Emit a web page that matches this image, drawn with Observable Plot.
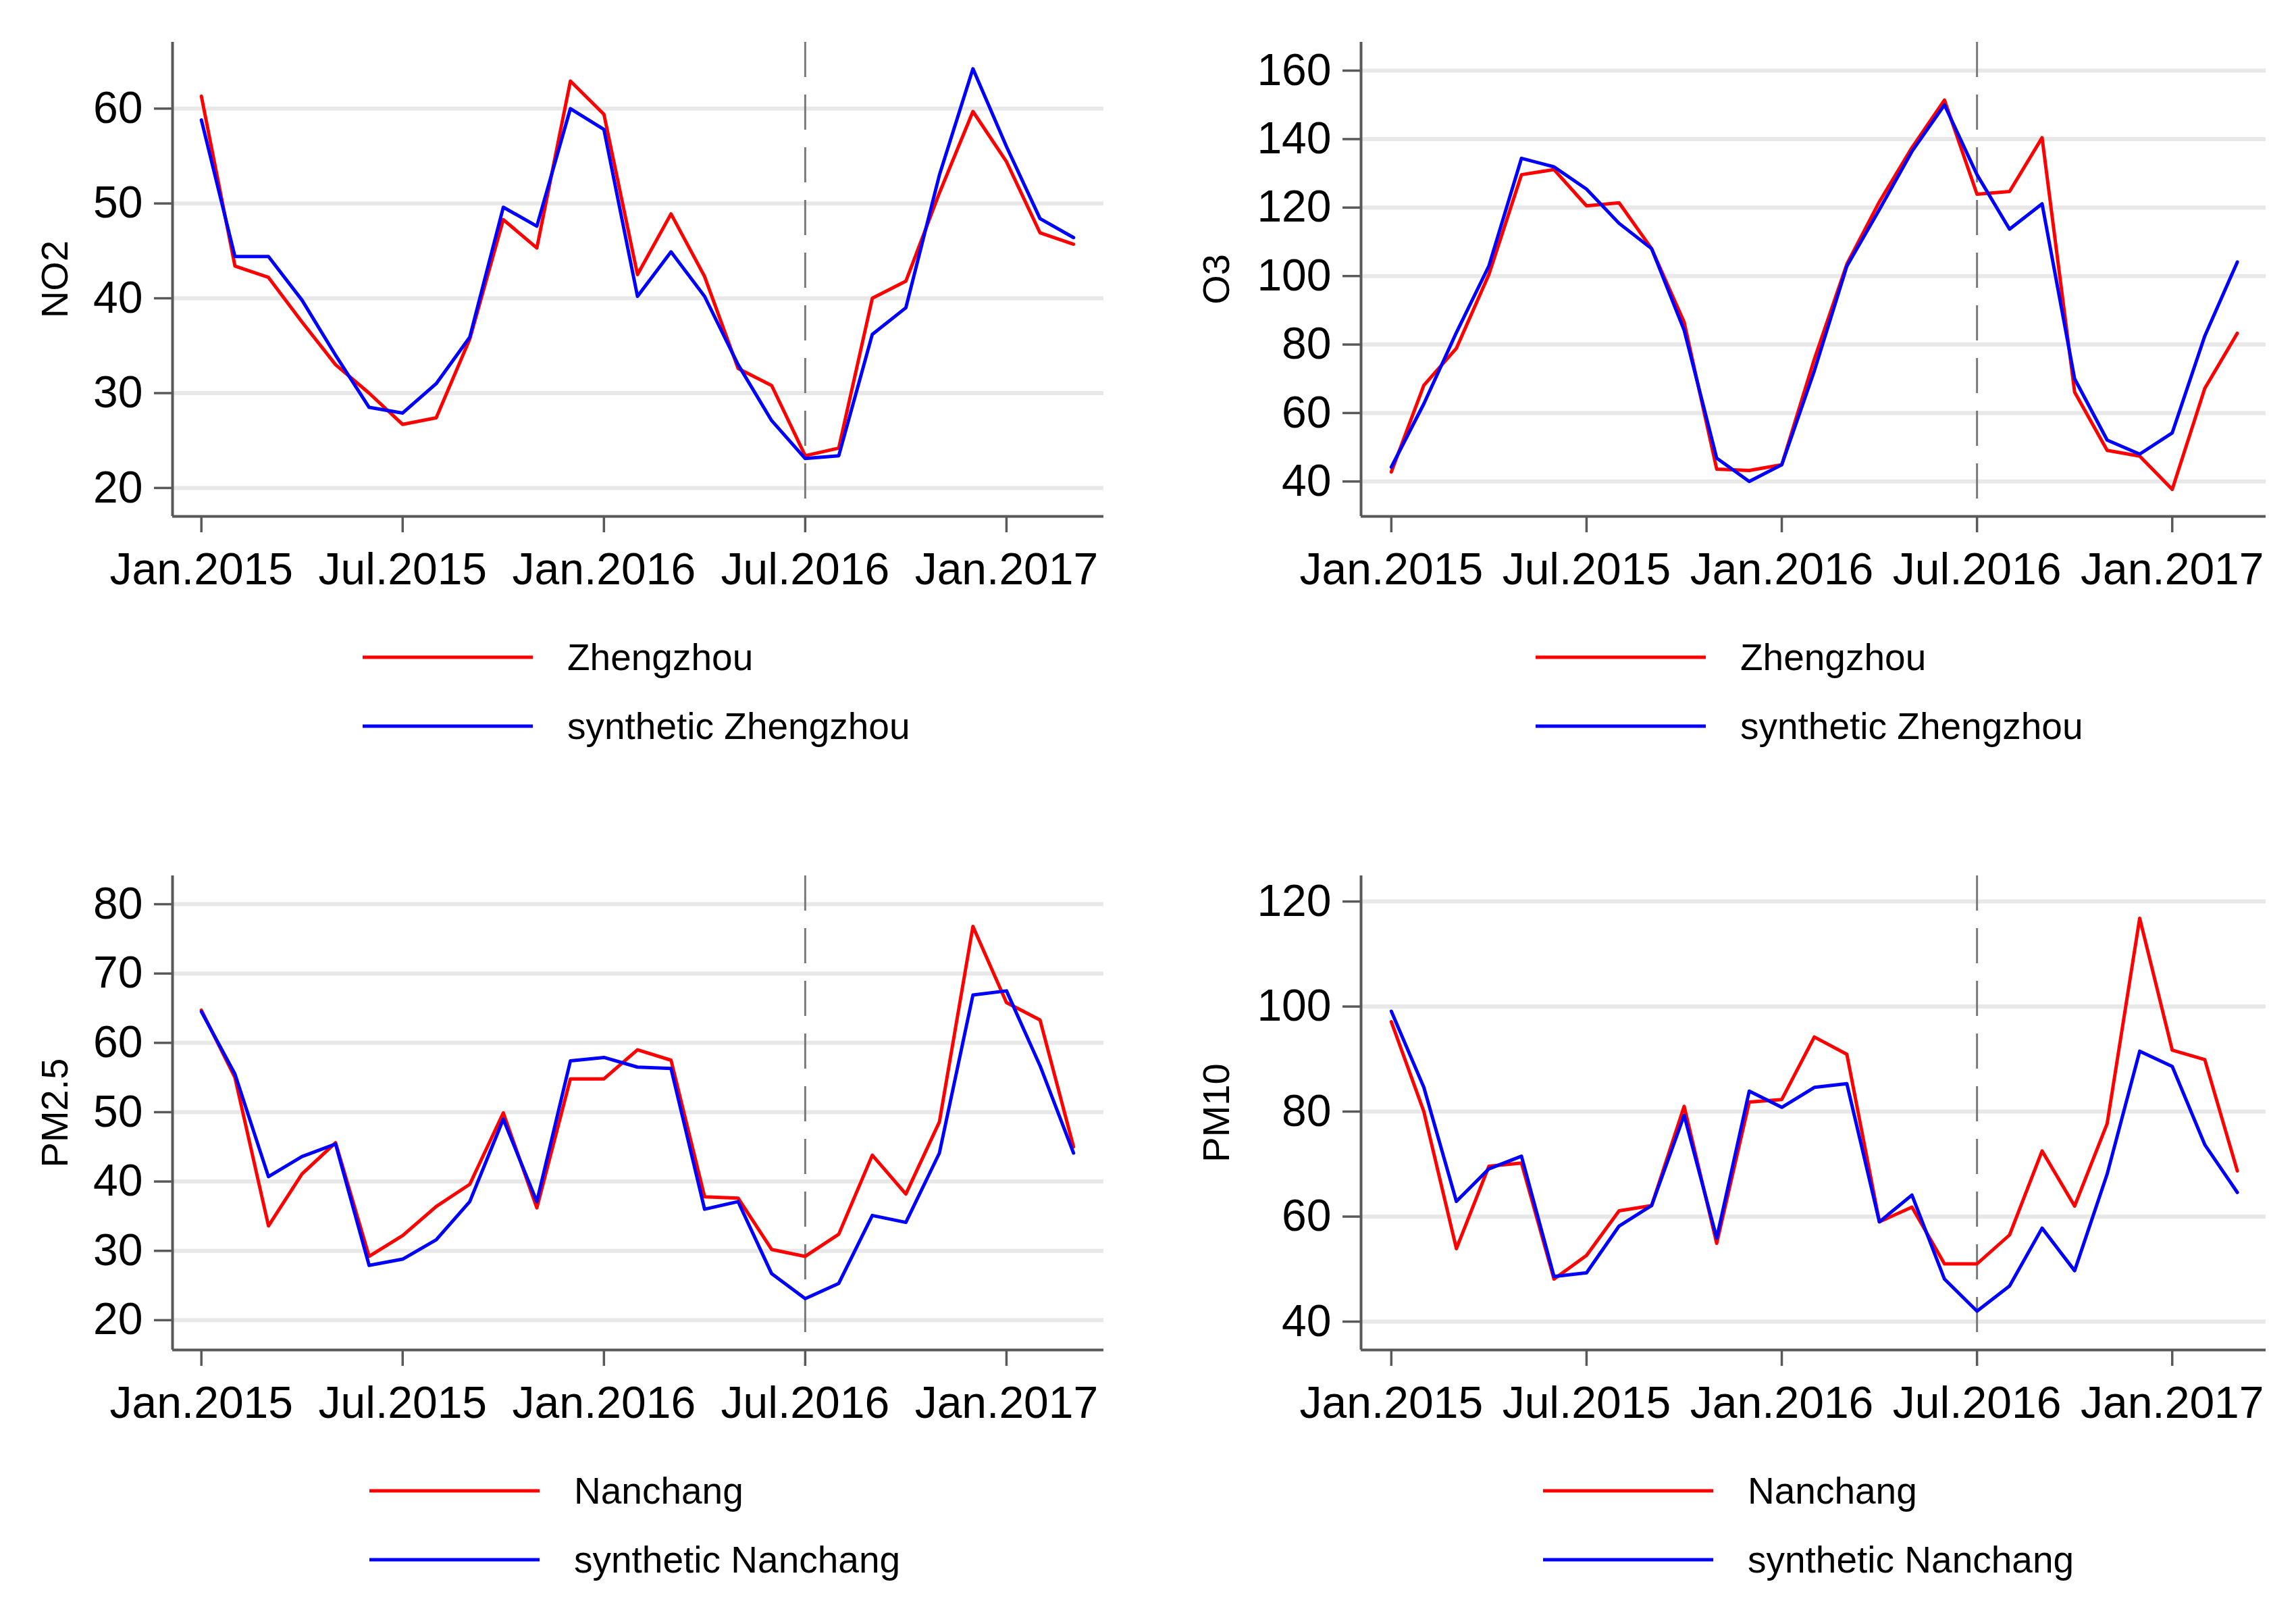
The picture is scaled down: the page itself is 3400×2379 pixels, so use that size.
<!DOCTYPE html>
<html>
<head>
<meta charset="utf-8">
<script src="https://cdn.jsdelivr.net/npm/d3@7"></script>
<script src="https://cdn.jsdelivr.net/npm/@observablehq/plot@0.6"></script>
<style>
  html, body { margin: 0; padding: 0; background: #ffffff; }
  #root { position: relative; width: 3400px; height: 2379px; background: #ffffff; overflow: hidden;
          font-family: "Liberation Sans", Arial, sans-serif; }
  .panel { position: absolute; }
  .legend-row { position: absolute; height: 0; }
  .legend-line { height: 5px; }
  .legend-text { font-size: 55px; color: #000; white-space: nowrap; position: absolute; line-height: 1; transform: translateY(-50%); top: 0; }
</style>
</head>
<body>
<div id="root"></div>
<script>
// ---- Data ----
const months = ["2015-01","2015-02","2015-03","2015-04","2015-05","2015-06","2015-07","2015-08","2015-09",
  "2015-10","2015-11","2015-12","2016-01","2016-02","2016-03","2016-04","2016-05","2016-06","2016-07",
  "2016-08","2016-09","2016-10","2016-11","2016-12","2017-01","2017-02","2017-03"];
const tickMonths = ["2015-01","2015-07","2016-01","2016-07","2017-01"];
const tickLabels = ["Jan.2015","Jul.2015","Jan.2016","Jul.2016","Jan.2017"];
const treatmentMonth = "2016-07";

const no2Zhengzhou  = [61.3,43.4,42.2,37.5,33.0,30.0,26.7,27.4,35.7,48.3,45.3,62.9,59.4,42.5,48.9,42.3,32.6,30.8,23.4,24.2,40.0,41.8,51.1,59.7,54.4,46.9,45.7];
const no2Synthetic  = [58.8,44.4,44.4,39.8,34.0,28.5,27.9,31.0,35.9,49.6,47.6,60.0,57.8,40.2,44.9,40.2,33.0,27.1,23.1,23.4,36.2,39.0,53.0,64.2,56.0,48.4,46.4];
const o3Zhengzhou   = [42.8,68.1,78.9,100.5,129.6,131.1,120.5,121.4,108.0,86.5,43.6,43.2,44.9,75.7,103.5,121.7,137.5,151.4,123.9,124.7,140.4,66.1,49.1,47.4,37.7,67.2,83.3];
const o3Synthetic   = [44.2,62.7,83.5,103.0,134.4,131.9,125.4,115.4,108.0,84.2,46.8,40.0,44.9,72.3,102.9,119.4,136.4,150.0,129.6,113.7,121.1,70.0,52.1,48.0,54.2,82.5,104.1];
const pm25Nanchang  = [64.7,55.0,33.6,41.1,45.6,29.2,32.2,36.4,39.6,49.9,36.2,54.8,54.8,59.0,57.5,37.8,37.6,30.2,29.2,32.4,43.8,38.2,48.6,76.8,65.8,63.3,45.0];
const pm25Synthetic = [64.5,55.5,40.7,43.6,45.4,27.9,28.8,31.6,37.1,49.0,37.1,57.4,57.9,56.5,56.3,36.0,37.1,26.7,23.1,25.3,35.1,34.1,44.1,66.9,67.5,56.7,44.1];
const pm10Nanchang  = [97.1,80.0,53.9,69.6,70.2,48.1,52.6,61.1,62.1,81.0,54.9,81.8,82.3,94.2,90.9,59.0,61.8,51.0,51.0,56.5,72.5,62.0,77.7,116.8,91.7,89.9,68.7];
const pm10Synthetic = [99.1,84.6,62.9,69.1,71.5,48.6,49.3,58.2,62.1,79.3,55.9,83.9,80.8,84.6,85.3,59.0,64.1,48.1,42.0,46.8,57.8,49.7,68.1,91.5,88.6,73.7,64.6];

const no2Ticks  = [20,30,40,50,60];
const o3Ticks   = [40,60,80,100,120,140,160];
const pm25Ticks = [20,30,40,50,60,70,80];
const pm10Ticks = [40,60,80,100,120];

// ---- Helpers ----
function monthIndex(s) { const [y, m] = s.split("-").map(Number); return (y - 2015) * 12 + (m - 1); }
const tickIdx = tickMonths.map(monthIndex);
const tickLabelMap = new Map(tickIdx.map((t, i) => [t, tickLabels[i]]));
const treatIdx = monthIndex(treatmentMonth);

const RED = "#ff0000", BLUE = "#0000ff", AXIS = "#595959";

const panels = [
  {label: "NO2", treated: no2Zhengzhou, synthetic: no2Synthetic, names: ["Zhengzhou", "synthetic Zhengzhou"],
   ticks: no2Ticks, yDomain: [17.0, 67.0], left: 0, top: 0, side: "L", legendX: 537},
  {label: "O3", treated: o3Zhengzhou, synthetic: o3Synthetic, names: ["Zhengzhou", "synthetic Zhengzhou"],
   ticks: o3Ticks, yDomain: [29.8, 168.3], left: 1700, top: 0, side: "R", legendX: 2274},
  {label: "PM2.5", treated: pm25Nanchang, synthetic: pm25Synthetic, names: ["Nanchang", "synthetic Nanchang"],
   ticks: pm25Ticks, yDomain: [15.7, 84.1], left: 0, top: 1234, side: "L", legendX: 547},
  {label: "PM10", treated: pm10Nanchang, synthetic: pm10Synthetic, names: ["Nanchang", "synthetic Nanchang"],
   ticks: pm10Ticks, yDomain: [34.6, 124.9], left: 1700, top: 1234, side: "R", legendX: 2285}
];

const root = document.getElementById("root");

panels.forEach((p) => {
  const rows = months.map((m, i) => ({t: monthIndex(m), treated: p.treated[i], synthetic: p.synthetic[i]}));
  const L = p.side === "L";
  const marginLeft = L ? 255 : 315;
  const marginRight = L ? 66 : 45;
  const xDomain = L ? [-0.86, 26.9] : [-0.93, 26.88];
  const labelCenter = L ? 82 : 102;

  const chart = Plot.plot({
    width: 1700,
    height: 900,
    marginTop: 62,
    marginBottom: 136,
    marginLeft,
    marginRight,
    style: {fontFamily: "Liberation Sans, Arial, sans-serif", background: "transparent", color: "#000", overflow: "visible"},
    x: {type: "linear", domain: xDomain},
    y: {type: "linear", domain: p.yDomain},
    marks: [
      Plot.gridY(p.ticks, {stroke: "#e8e8e8", strokeOpacity: 1, strokeWidth: 6}),
      Plot.ruleX([treatIdx], {stroke: "#7a7a7a", strokeWidth: 3, strokeDasharray: "52,26"}),
      Plot.lineY(rows, {x: "t", y: "treated", stroke: RED, strokeWidth: 5}),
      Plot.lineY(rows, {x: "t", y: "synthetic", stroke: BLUE, strokeWidth: 5}),
      Plot.ruleX([xDomain[0]], {stroke: AXIS, strokeWidth: 4}),
      Plot.ruleY([p.yDomain[0]], {stroke: AXIS, strokeWidth: 4}),
      Plot.axisX(tickIdx, {tickSize: 24, tickPadding: 30, tickFormat: d => tickLabelMap.get(d),
        fontSize: 66, stroke: AXIS, strokeWidth: 3.5, label: null}),
      Plot.axisY(p.ticks, {tickSize: 27, tickPadding: 17, fontSize: 66, stroke: AXIS, strokeWidth: 3.5, label: null}),
      Plot.text([p.label], {frameAnchor: "left", textAnchor: "middle", lineAnchor: "middle",
        dx: labelCenter - marginLeft, rotate: -90, fontSize: 56, fill: "#000"})
    ]
  });
  const wrap = document.createElement("div");
  wrap.className = "panel";
  wrap.style.left = p.left + "px";
  wrap.style.top = p.top + "px";
  wrap.appendChild(chart);
  root.appendChild(wrap);

  // Legend (below the plot)
  const axisY = p.top + 764;
  const colors = [RED, BLUE];
  p.names.forEach((name, j) => {
    const row = document.createElement("div");
    row.className = "legend-row";
    row.style.left = p.legendX + "px";
    row.style.top = (axisY + 209 + j * 102) + "px";
    const line = document.createElement("div");
    line.className = "legend-line";
    line.style.width = "252px";
    line.style.background = colors[j];
    line.style.transform = "translateY(-50%)";
    line.style.position = "absolute";
    line.style.top = "0";
    const txt = document.createElement("div");
    txt.className = "legend-text";
    txt.style.left = "303px";
    txt.textContent = name;
    row.appendChild(line);
    row.appendChild(txt);
    root.appendChild(row);
  });
});
</script>
</body>
</html>
